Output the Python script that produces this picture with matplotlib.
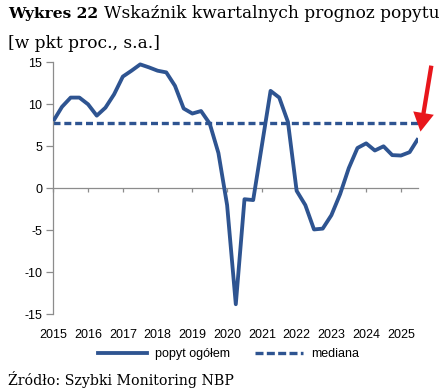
import matplotlib
matplotlib.use("Agg")
import matplotlib.pyplot as plt
from matplotlib.lines import Line2D
from matplotlib.transforms import blended_transform_factory

# ---- data ----
years = ["2015", "2016", "2017", "2018", "2019", "2020",
         "2021", "2022", "2023", "2024", "2025"]
popyt = [8.0, 9.7, 10.8, 10.8, 10.0, 8.65, 9.6, 11.2, 13.3, 14.0, 14.75,
         14.4, 14.0, 13.8, 12.2, 9.5, 8.9, 9.2, 7.7, 4.2, -2.0, -13.8,
         -1.3, -1.4, 5.1, 11.6, 10.8, 7.9, -0.3, -2.0, -4.9, -4.8, -3.2,
         -0.7, 2.4, 4.8, 5.35, 4.5, 5.0, 3.95, 3.9, 4.3, 5.95]
mediana_value = 7.8
yticks = [-15, -10, -5, 0, 5, 10, 15]
series_labels = ["popyt ogółem", "mediana"]
title_bold = "Wykres 22"
title_rest = "Wskaźnik kwartalnych prognoz popytu"
title_line2 = "[w pkt proc., s.a.]"
source_text = "Źródło: Szybki Monitoring NBP"

W, H = 442, 390
fig = plt.figure(figsize=(W / 100, H / 100), dpi=100)
fig.patch.set_facecolor("white")

ax_left, ax_right = 53.3, 418.3
ax_top, ax_bottom = 62.3, 314.3
ax = fig.add_axes([ax_left / W, 1 - ax_bottom / H,
                   (ax_right - ax_left) / W, (ax_bottom - ax_top) / H])

blue = "#2E5491"
grey = "#8C8C8C"
red = "#E8161C"

x = list(range(len(popyt)))
med = [mediana_value] * len(popyt)

ax.plot(x, popyt, color=blue, lw=2.75, solid_joinstyle="round",
        solid_capstyle="butt", zorder=3, label=series_labels[0])
ax.plot(x, med, color=blue, lw=2.4, dashes=(2.1, 1.15),
        dash_capstyle="butt", zorder=2, label=series_labels[1])

ax.set_xlim(0, len(popyt) - 1)
ax.set_ylim(-15, 15)

for s in ["top", "right"]:
    ax.spines[s].set_visible(False)
ax.spines["left"].set_color(grey)
ax.spines["left"].set_linewidth(0.9)
ax.spines["bottom"].set_position(("data", 0))
ax.spines["bottom"].set_color(grey)
ax.spines["bottom"].set_linewidth(0.9)

ax.set_yticks(yticks)
ax.set_yticklabels([str(v) for v in yticks], fontsize=9,
                   family="Liberation Sans")
ax.tick_params(axis="y", direction="out", length=5, width=0.9,
               color=grey, pad=3)

year_pos = [4 * i for i in range(len(years))]
ax.set_xticks(year_pos)
ax.tick_params(axis="x", direction="out", length=3, width=0.9,
               color=grey, labelbottom=False)

tr = blended_transform_factory(ax.transData, fig.transFigure)
for xp, yl in zip(year_pos, years):
    ax.text(xp, 1 - 335.5 / H, yl, transform=tr, ha="center", va="center",
            fontsize=9, family="Liberation Sans")

# legend
handles = [Line2D([], [], color=blue, lw=2.75),
           Line2D([], [], color=blue, lw=2.4, dashes=(2.4, 1.0),
                  dash_capstyle="butt")]
leg = fig.legend(handles, series_labels, loc="center",
                 bbox_to_anchor=(228.5 / W, 1 - 354 / H), ncol=2,
                 frameon=False, handlelength=3.9, handletextpad=0.6,
                 columnspacing=2.0, prop={"family": "Liberation Sans",
                                          "size": 9})

# arrow
ax.annotate("", xy=(42.25, 6.75), xytext=(43.5, 14.6),
            xycoords="data", textcoords="data", annotation_clip=False,
            arrowprops=dict(arrowstyle="simple,head_width=15,head_length=13.5,tail_width=3.1",
                            mutation_scale=1, color=red, shrinkA=0, shrinkB=0,
                            lw=0))

# titles
serif = "DejaVu Serif"
renderer = fig.canvas.get_renderer()


def fit(t, target):
    for _ in range(3):
        w = t.get_window_extent(renderer).width
        t.set_fontsize(t.get_fontsize() * target / w)


tb = fig.text(8 / W, 1 - 18.3 / H, title_bold, fontsize=12, weight="bold",
              family=serif, va="baseline", ha="left")
fit(tb, 90)
tr_ = fig.text(104 / W, 1 - 18.3 / H, title_rest, fontsize=12,
               family=serif, va="baseline", ha="left")
fit(tr_, 336)
t2 = fig.text(8 / W, 1 - 48.5 / H, title_line2, fontsize=tr_.get_fontsize(),
              family=serif, va="baseline", ha="left")
src = fig.text(8 / W, 1 - 385.5 / H, source_text, fontsize=10,
               family=serif, va="baseline", ha="left")
fit(src, 225)

fig.savefig("out.png", dpi=100)
